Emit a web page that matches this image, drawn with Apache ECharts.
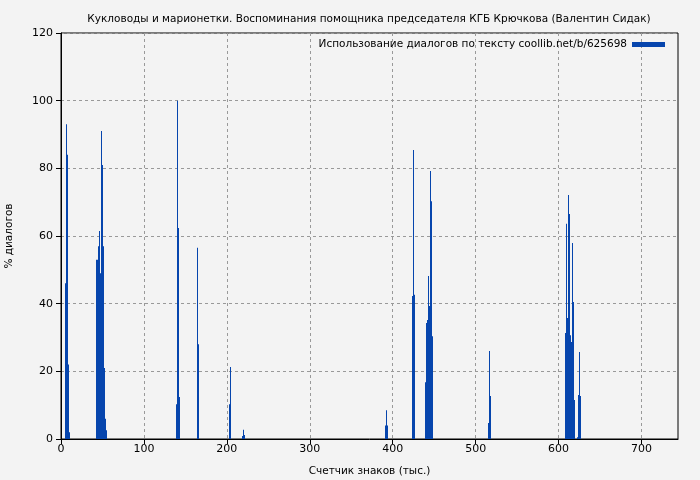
<!DOCTYPE html>
<html>
<head>
<meta charset="utf-8">
<script src="https://cdn.jsdelivr.net/npm/echarts@6/dist/echarts.min.js"></script>
<style>html,body{margin:0;padding:0;background:#f3f3f3;}#c{width:700px;height:480px;}</style>
</head>
<body>
<div id="c"></div>
<script>
// bin start (thousand characters) and % of dialogues
const binStarts = [
  4.8, 6.0, 7.2, 8.4, 9.6,
  42.2, 43.4, 44.6, 45.8, 47.0, 48.2, 49.4, 50.6, 51.8, 53.0, 54.2,
  138.6, 139.8, 141.0, 142.2,
  163.9, 165.1,
  202.4, 203.6,
  218.1, 219.3, 220.5,
  390.4, 391.6, 392.8,
  422.9, 424.1, 425.3,
  438.6, 439.8, 441.0, 442.2, 443.4, 444.6, 445.8, 447.0,
  514.5, 515.7, 516.9,
  607.2, 608.4, 609.6, 610.8, 612.0, 613.3, 614.5, 615.7, 616.9, 618.1,
  621.7, 622.9, 624.1, 625.3
];
const dialogPct = [
  46, 93, 84, 22, 2,
  53, 53, 57, 61.5, 49, 91, 81, 57, 21, 6, 2.6,
  10.3, 100, 62.4, 12.4,
  56.5, 28,
  10.3, 21.3,
  0.9, 2.7, 1.2,
  4, 8.5, 4,
  42.3, 85.4, 42.6,
  16.8, 34.3, 35.2, 48.2, 39.3, 79.2, 70.3, 30.4,
  4.7, 26, 12.7,
  31.3, 63.6, 35.8, 72.1, 66.5, 30.7, 28.7, 57.9, 40.5, 11.5,
  0.5, 13, 25.7, 12.7
];
const binWidth = 1.2;
const xTicks = [0, 100, 200, 300, 400, 500, 600, 700];
const yTicks = [0, 20, 40, 60, 80, 100, 120];

const titleText = 'Кукловоды и марионетки. Воспоминания помощника председателя КГБ Крючкова (Валентин Сидак)';
const seriesName = 'Использование диалогов по тексту coollib.net/b/625698';
const barColor = '#0645ad';
const font = 'DejaVu Sans';

const chart = echarts.init(document.getElementById('c'), null, {renderer: 'canvas'});
chart.setOption({
  backgroundColor: '#f3f3f3',
  animation: false,
  title: {
    text: titleText, left: 364, top: 9, textAlign: 'center',
    textStyle: {fontFamily: font, fontSize: 10.5, fontWeight: 'normal', color: '#000'}
  },
  legend: {
    data: [{name: seriesName, icon: 'rect'}],
    right: 30, top: 34, align: 'right', itemWidth: 33, itemHeight: 5, itemGap: 7,
    textStyle: {fontFamily: font, fontSize: 10.5, color: '#000'}
  },
  grid: {left: 61, right: 22, top: 33, bottom: 41, outerBoundsMode: 'none', containLabel: false,
    show: true, borderColor: '#000', borderWidth: 1, backgroundColor: 'transparent'},
  xAxis: {
    type: 'value', min: 0, max: 744,
    name: 'Счетчик знаков (тыс.)', nameLocation: 'middle', nameGap: 27,
    nameTextStyle: {fontFamily: font, fontSize: 10.5, color: '#000'},
    axisLine: {show: true, lineStyle: {color: '#000'}},
    axisTick: {show: true, length: 5, customValues: xTicks, lineStyle: {color: '#000'}},
    axisLabel: {fontFamily: font, fontSize: 11, color: '#000', margin: 5, customValues: xTicks},
    splitLine: {show: true, lineStyle: {color: '#999', type: [3, 3]}}
  },
  yAxis: {
    type: 'value', min: 0, max: 120, interval: 20,
    name: '% диалогов', nameLocation: 'middle', nameGap: 46,
    nameTextStyle: {fontFamily: font, fontSize: 10.5, color: '#000'},
    axisLine: {show: true, lineStyle: {color: '#000'}},
    axisTick: {show: true, length: 5, lineStyle: {color: '#000'}},
    axisLabel: {fontFamily: font, fontSize: 11, color: '#000', margin: 8},
    splitLine: {show: true, lineStyle: {color: '#999', type: [3, 3]}}
  },
  series: [{
    name: seriesName,
    type: 'custom',
    itemStyle: {color: barColor},
    encode: {x: 0, y: 1},
    data: binStarts.map((x, i) => [x, dialogPct[i]]),
    renderItem: function (params, api) {
      const x0 = api.value(0), y = api.value(1);
      const p0 = api.coord([x0, 0]);
      const p1 = api.coord([x0 + binWidth, y]);
      const left = Math.round(p0[0]);
      const w = Math.max(1, Math.round(p1[0]) - left);
      return {
        type: 'rect',
        shape: {x: left, y: p1[1], width: w, height: p0[1] - p1[1]},
        style: {fill: barColor}
      };
    }
  }]
});
</script>
</body>
</html>
